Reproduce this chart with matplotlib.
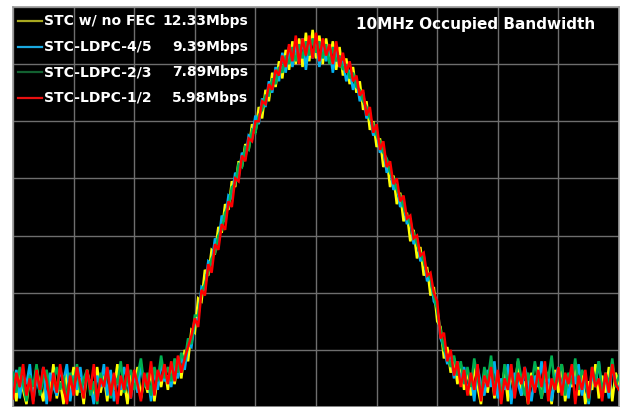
import numpy as np
import matplotlib
matplotlib.use("Agg")
import matplotlib.pyplot as plt
from matplotlib.lines import Line2D

# Spectrum traces, in screen divisions (10 x 7 grid)
stc_nofec = [
    0.5, 0.1, 0.65, 0.3, 0.05, 0.55, 0.2, 0.7, 0.35, 0.1, 0.6, 0.25, 0.75, 0.15, 0.45, 0.05,
    0.6, 0.3, 0.7, 0.2, 0.5, 0.05, 0.65, 0.35, 0.15, 0.7, 0.25, 0.55, 0.1, 0.6, 0.3, 0.75,
    0.2, 0.45, 0.05, 0.6, 0.35, 0.7, 0.15, 0.5, 0.25, 0.65, 0.1, 0.55, 0.35, 0.7,
    0.3, 0.7, 0.4, 0.8, 0.5, 1.0, 0.8, 1.35, 1.3, 1.9, 1.85, 2.4, 2.3, 2.75, 2.7, 3.15,
    3.05, 3.55, 3.45, 3.95, 3.85, 4.3, 4.2, 4.6, 4.5, 4.95, 4.8, 5.25, 5.05, 5.55, 5.35, 5.85,
    5.6, 6.05, 5.75, 6.25, 5.9, 6.4, 6.0, 6.45, 5.95, 6.55, 6.05, 6.6,
    6.1, 6.5, 6.0, 6.45, 6.05, 6.4, 5.9, 6.3, 5.8, 6.1, 5.65, 5.95, 5.5, 5.7, 5.2, 5.35,
    4.85, 5.0, 4.55, 4.7, 4.2, 4.35, 3.85, 4.05, 3.55, 3.75, 3.25, 3.4, 2.9, 3.1, 2.6, 2.8,
    2.3, 2.45, 1.95, 2.1, 1.5, 1.4, 0.85, 1.05, 0.6, 0.85, 0.4, 0.75, 0.3, 0.65,
    0.2, 0.7, 0.35, 0.05, 0.6, 0.25, 0.75, 0.15, 0.5, 0.3, 0.65, 0.1, 0.55, 0.35, 0.8, 0.2,
    0.45, 0.05, 0.6, 0.3, 0.7, 0.15, 0.55, 0.35, 0.05, 0.65, 0.25, 0.75, 0.1, 0.5, 0.35, 0.7,
    0.2, 0.6, 0.05, 0.45, 0.3, 0.75, 0.15, 0.55, 0.25, 0.7, 0.1, 0.6, 0.4]
ldpc_45 = [
    0.3, 0.65, 0.15, 0.55, 0.4, 0.75, 0.1, 0.5, 0.25, 0.7, 0.05, 0.6, 0.35, 0.2, 0.65, 0.45,
    0.75, 0.1, 0.55, 0.3, 0.7, 0.2, 0.6, 0.4, 0.05, 0.55, 0.35, 0.75, 0.2, 0.65, 0.1, 0.5,
    0.3, 0.7, 0.45, 0.15, 0.6, 0.25, 0.75, 0.35, 0.55, 0.1, 0.65, 0.3, 0.8, 0.45,
    0.55, 0.35, 0.75, 0.5, 0.9, 0.65, 1.1, 1.05, 1.5, 1.55, 2.1, 2.05, 2.55, 2.5, 2.95, 2.85,
    3.35, 3.25, 3.7, 3.65, 4.1, 4.0, 4.45, 4.35, 4.75, 4.7, 5.1, 4.95, 5.4, 5.25, 5.7, 5.5,
    5.95, 5.7, 6.2, 5.85, 6.3, 5.95, 6.35, 6.05, 6.45, 5.9, 6.4, 6.1,
    6.45, 5.95, 6.35, 6.05, 6.3, 5.85, 6.25, 5.95, 6.05, 5.7, 5.9, 5.55, 5.75, 5.35, 5.5, 5.05,
    5.15, 4.75, 4.85, 4.45, 4.55, 4.1, 4.2, 3.8, 3.9, 3.5, 3.6, 3.2, 3.3, 2.85, 2.95, 2.55,
    2.65, 2.2, 2.3, 1.85, 1.75, 1.2, 1.05, 0.75, 0.95, 0.5, 0.8, 0.45, 0.7, 0.25,
    0.55, 0.1, 0.7, 0.4, 0.2, 0.65, 0.35, 0.8, 0.15, 0.5, 0.3, 0.75, 0.05, 0.6, 0.4, 0.2,
    0.7, 0.45, 0.1, 0.55, 0.35, 0.8, 0.25, 0.6, 0.1, 0.5, 0.7, 0.3, 0.55, 0.15, 0.65, 0.4,
    0.75, 0.2, 0.5, 0.05, 0.6, 0.35, 0.8, 0.25, 0.55, 0.15, 0.7, 0.45, 0.3]
ldpc_23 = [
    0.6, 0.25, 0.7, 0.4, 0.1, 0.55, 0.35, 0.75, 0.2, 0.5, 0.65, 0.15, 0.45, 0.7, 0.3, 0.55,
    0.1, 0.6, 0.4, 0.75, 0.25, 0.5, 0.65, 0.2, 0.45, 0.05, 0.6, 0.35, 0.7, 0.15, 0.55, 0.4,
    0.8, 0.25, 0.5, 0.65, 0.3, 0.55, 0.85, 0.35, 0.6, 0.2, 0.7, 0.45, 0.9, 0.5,
    0.7, 0.45, 0.85, 0.6, 0.95, 0.8, 1.2, 1.1, 1.6, 1.6, 2.0, 2.15, 2.35, 2.6, 2.7, 3.0,
    3.1, 3.4, 3.5, 3.85, 3.9, 4.25, 4.2, 4.55, 4.5, 4.85, 4.8, 5.1, 5.2, 5.45, 5.45, 5.75,
    5.65, 5.95, 5.85, 6.15, 6.0, 6.3, 6.05, 6.35, 6.1, 6.4, 6.15, 6.45,
    6.2, 6.4, 6.1, 6.35, 6.0, 6.3, 6.05, 6.15, 5.9, 6.0, 5.75, 5.85, 5.6, 5.55, 5.35, 5.25,
    5.05, 4.95, 4.75, 4.65, 4.45, 4.35, 4.1, 4.0, 3.8, 3.7, 3.5, 3.35, 3.2, 3.05, 2.85, 2.7,
    2.55, 2.35, 2.25, 1.95, 1.7, 1.35, 1.0, 0.9, 0.7, 0.9, 0.55, 0.8, 0.4, 0.7,
    0.35, 0.85, 0.5, 0.2, 0.7, 0.45, 0.9, 0.3, 0.6, 0.15, 0.75, 0.4, 0.65, 0.25, 0.85, 0.5,
    0.2, 0.6, 0.35, 0.8, 0.45, 0.15, 0.7, 0.5, 0.9, 0.3, 0.55, 0.75, 0.2, 0.6, 0.4, 0.85,
    0.3, 0.65, 0.5, 0.1, 0.7, 0.45, 0.8, 0.25, 0.6, 0.4, 0.85, 0.35, 0.55]
ldpc_12 = [
    0.15, 0.6, 0.35, 0.75, 0.2, 0.5, 0.05, 0.65, 0.3, 0.7, 0.45, 0.1, 0.6, 0.25, 0.75, 0.35,
    0.05, 0.55, 0.2, 0.7, 0.4, 0.15, 0.65, 0.3, 0.75, 0.1, 0.5, 0.35, 0.7, 0.2, 0.6, 0.05,
    0.55, 0.3, 0.75, 0.15, 0.65, 0.4, 0.1, 0.6, 0.3, 0.8, 0.2, 0.65, 0.45, 0.75,
    0.4, 0.8, 0.45, 0.9, 0.6, 0.85, 1.05, 1.25, 1.55, 1.4, 2.05, 1.95, 2.5, 2.35, 2.85, 2.75,
    3.2, 3.1, 3.6, 3.5, 4.0, 3.95, 4.4, 4.3, 4.7, 4.65, 5.0, 5.0, 5.35, 5.3, 5.65, 5.55,
    5.9, 5.8, 6.15, 5.95, 6.35, 6.05, 6.5, 6.0, 6.45, 6.15, 6.5, 6.1,
    6.55, 6.05, 6.45, 6.15, 6.35, 6.0, 6.4, 5.95, 6.2, 5.85, 6.05, 5.7, 5.8, 5.45, 5.55, 5.1,
    5.25, 4.8, 4.95, 4.5, 4.65, 4.2, 4.3, 3.9, 4.0, 3.6, 3.7, 3.3, 3.35, 2.95, 3.0, 2.65,
    2.7, 2.3, 2.35, 2.0, 1.85, 1.2, 1.3, 0.8, 1.0, 0.55, 0.8, 0.35, 0.65, 0.2,
    0.6, 0.3, 0.75, 0.1, 0.55, 0.35, 0.7, 0.2, 0.65, 0.05, 0.5, 0.3, 0.75, 0.15, 0.6, 0.4,
    0.7, 0.05, 0.55, 0.25, 0.65, 0.35, 0.8, 0.1, 0.5, 0.3, 0.7, 0.2, 0.6, 0.4, 0.75, 0.05,
    0.55, 0.3, 0.65, 0.15, 0.7, 0.35, 0.5, 0.1, 0.6, 0.25, 0.75, 0.4, 0.3]

labels = ["STC w/ no FEC", "STC-LDPC-4/5", "STC-LDPC-2/3", "STC-LDPC-1/2"]
rates = ["12.33Mbps", "9.39Mbps", "7.89Mbps", "5.98Mbps"]
series = [stc_nofec, ldpc_45, ldpc_23, ldpc_12]
trace_colors = ["#FFFF00", "#00B0F0", "#00B050", "#FF0000"]
legend_colors = ["#A8A820", "#1AA8E0", "#126030", "#E81010"]
title = "10MHz Occupied Bandwidth"

W, H = 626, 407
fig = plt.figure(figsize=(W / 100, H / 100), dpi=100, facecolor="white")
ax = fig.add_axes([13 / W, 0, 606 / W, 400 / H])
ax.set_facecolor("black")

for ys, c in zip(series, trace_colors):
    x = np.linspace(0, 10, len(ys))
    ax.plot(x, ys, color=c, lw=1.8, solid_joinstyle="miter", zorder=3)

ax.set_xlim(0, 10)
ax.set_ylim(0, 7)
ax.set_xticks(np.arange(0, 11))
ax.set_yticks(np.arange(0, 8))
ax.tick_params(length=0, labelbottom=False, labelleft=False)
ax.grid(True, color="#6e6e6e", lw=1.0, zorder=1)
ax.set_axisbelow(True)
for s in ax.spines.values():
    s.set_color("#9a9a9a")
    s.set_linewidth(1.2)

# legend drawn by hand so the rates line up on the right
for k, (lab, rate, lc) in enumerate(zip(labels, rates, legend_colors)):
    ypx = 21 + k * 25.6
    yf = 1 - ypx / H
    fig.add_artist(Line2D([18 / W, 42 / W], [yf, yf], color=lc, lw=1.6))
    fig.text(44 / W, yf, lab, color="white", fontsize=10, fontweight="bold",
             ha="left", va="center")
    fig.text(248 / W, yf, rate, color="white", fontsize=10, fontweight="bold",
             ha="right", va="center")

fig.text(595 / W, 1 - 24 / H, title, color="white", fontsize=11, fontweight="bold",
         ha="right", va="center")

fig.savefig("out.png", dpi=100, facecolor="white")
